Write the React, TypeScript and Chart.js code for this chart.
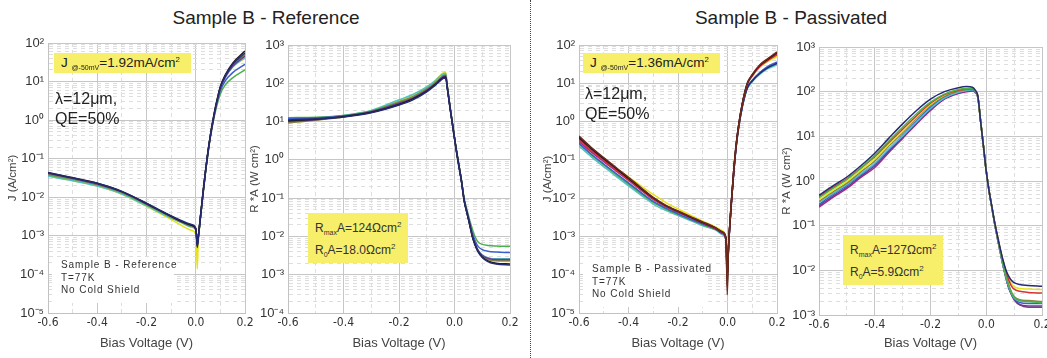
import React, { useEffect, useRef } from "react";
import { Chart, registerables } from "chart.js";

Chart.register(...registerables);

// ---------------- DATA ----------------
// Panel 1: J (A/cm²) vs bias, Sample B - Reference
const vJRef = [-0.6, -0.5, -0.4, -0.3, -0.2, -0.12, -0.06, -0.02, 0.0, 0.003, 0.006, 0.01, 0.02, 0.03, 0.04, 0.05, 0.06, 0.07, 0.08, 0.09, 0.1, 0.12, 0.15, 0.2];
const jRefNavy = [0.044, 0.032, 0.023, 0.0142, 0.007, 0.0038, 0.0025, 0.002, 0.0016, 0.001, 0.0005, 0.0008, 0.0035, 0.014, 0.05, 0.16, 0.42, 1.0, 2.1, 4.0, 7.2, 14, 28, 55];
const jRefBlack = [0.043, 0.032, 0.023, 0.014, 0.0069, 0.0037, 0.0024, 0.0019, 0.0015, 0.001, 0.00055, 0.0009, 0.0036, 0.014, 0.05, 0.16, 0.43, 1.0, 2.2, 4.2, 7.5, 15, 30, 62];
const jRefPurple = [0.042, 0.031, 0.022, 0.0138, 0.0068, 0.0037, 0.0024, 0.0019, 0.0015, 0.001, 0.0006, 0.0009, 0.0035, 0.014, 0.05, 0.15, 0.41, 0.95, 2.0, 3.8, 6.8, 13, 25, 46];
const jRefOlive = [0.04, 0.03, 0.0215, 0.0134, 0.0066, 0.0036, 0.0023, 0.0018, 0.0015, 0.001, 0.0006, 0.0009, 0.0034, 0.013, 0.048, 0.15, 0.41, 0.95, 2.0, 3.9, 7.0, 14, 27, 50];
const jRefBlue = [0.041, 0.031, 0.022, 0.0137, 0.0067, 0.0037, 0.0024, 0.0019, 0.0015, 0.001, 0.0006, 0.0009, 0.0035, 0.013, 0.048, 0.15, 0.4, 0.9, 1.9, 3.5, 5.8, 10.5, 17, 28];
const jRefGreen = [0.038, 0.029, 0.021, 0.013, 0.0064, 0.0035, 0.0023, 0.0018, 0.0015, 0.001, 0.0006, 0.0009, 0.0034, 0.013, 0.047, 0.14, 0.38, 0.85, 1.7, 3.0, 4.8, 8.2, 12.5, 20];
const jRefCyan = [0.035, 0.027, 0.0195, 0.0122, 0.006, 0.0033, 0.0022, 0.0017, 0.0014, 0.0009, 0.0006, 0.0009, 0.0033, 0.013, 0.047, 0.15, 0.4, 0.95, 2.0, 3.8, 6.8, 13, 24, 42];
const jRefYellow = [0.036, 0.027, 0.0195, 0.012, 0.0058, 0.0031, 0.0019, 0.0014, 0.0011, 0.0006, 0.00014, 0.0006, 0.0032, 0.013, 0.047, 0.15, 0.4, 0.95, 2.0, 3.8, 6.8, 13, 24, 40];

// Panel 2: R*A vs bias, Sample B - Reference
const vRaRef = [-0.6, -0.5, -0.4, -0.3, -0.2, -0.15, -0.1, -0.07, -0.05, -0.04, -0.032, -0.025, -0.015, -0.005, 0.005, 0.015, 0.025, 0.035, 0.045, 0.055, 0.065, 0.075, 0.085, 0.1, 0.12, 0.15, 0.2];
const raRefNavy = [11, 11.8, 13.2, 17, 27, 37, 60, 88, 118, 135, 138, 65, 20, 6.5, 2.1, 0.75, 0.28, 0.085, 0.041, 0.02, 0.0095, 0.0058, 0.004, 0.0028, 0.0022, 0.0019, 0.0018];
const raRefBlack = [10.5, 11.5, 13.5, 17.5, 28, 39, 62, 92, 125, 142, 146, 68, 20, 6.5, 2.1, 0.75, 0.28, 0.085, 0.041, 0.02, 0.0095, 0.0058, 0.004, 0.0029, 0.0023, 0.002, 0.0019];
const raRefPurple = [10, 11.2, 13.5, 18, 30, 41, 66, 97, 132, 152, 156, 70, 21, 6.6, 2.1, 0.76, 0.28, 0.086, 0.042, 0.021, 0.01, 0.0062, 0.0043, 0.0032, 0.0027, 0.0025, 0.0025];
const raRefOlive = [9.2, 10.8, 13.2, 18, 32, 44, 70, 102, 138, 158, 163, 72, 21, 6.6, 2.1, 0.76, 0.28, 0.086, 0.042, 0.021, 0.01, 0.006, 0.0041, 0.003, 0.0025, 0.0023, 0.0023];
const raRefBlue = [12, 12.5, 14, 18, 30, 41, 66, 96, 130, 150, 158, 70, 21, 6.6, 2.1, 0.77, 0.29, 0.09, 0.045, 0.023, 0.012, 0.0075, 0.0055, 0.0045, 0.0041, 0.0039, 0.0038];
const raRefGreen = [12.6, 13, 14.5, 19, 33, 45, 72, 104, 142, 162, 168, 72, 21, 6.7, 2.2, 0.8, 0.3, 0.095, 0.05, 0.026, 0.015, 0.0095, 0.0072, 0.0062, 0.0058, 0.0056, 0.0055];
const raRefCyan = [11.5, 12.5, 14.5, 19.5, 37, 51, 80, 116, 160, 178, 182, 75, 22, 6.8, 2.2, 0.78, 0.29, 0.088, 0.043, 0.021, 0.0105, 0.0063, 0.0044, 0.0033, 0.0028, 0.0026, 0.0026];
const raRefYellow = [9.5, 11, 13.8, 19, 35, 49, 80, 118, 165, 190, 196, 78, 22, 6.8, 2.2, 0.78, 0.29, 0.088, 0.042, 0.021, 0.01, 0.006, 0.0042, 0.0031, 0.0026, 0.0023, 0.0022];

// Panel 3: J (A/cm²) vs bias, Sample B - Passivated
const vJPas = [-0.6, -0.55, -0.5, -0.45, -0.4, -0.35, -0.3, -0.25, -0.2, -0.15, -0.1, -0.05, -0.02, -0.006, -0.001, 0.004, 0.008, 0.015, 0.025, 0.035, 0.045, 0.06, 0.08, 0.1, 0.13, 0.16, 0.2];
const jPasBrown = [0.42, 0.21, 0.115, 0.063, 0.035, 0.019, 0.0105, 0.0066, 0.0046, 0.0033, 0.0024, 0.0017, 0.0013, 0.0009, 0.00003, 0.0005, 0.0015, 0.007, 0.05, 0.25, 0.8, 3.0, 10, 17, 30, 43, 66];
const jPasBlack = [0.39, 0.2, 0.108, 0.06, 0.033, 0.018, 0.0101, 0.0064, 0.0045, 0.0032, 0.0023, 0.0017, 0.0013, 0.0009, 0.00005, 0.0005, 0.0015, 0.007, 0.05, 0.25, 0.8, 3.0, 10, 16.5, 29, 41, 62];
const jPasRed = [0.33, 0.175, 0.097, 0.054, 0.03, 0.0168, 0.0096, 0.0062, 0.0044, 0.0032, 0.0023, 0.0017, 0.0013, 0.0009, 0.0001, 0.0005, 0.0015, 0.007, 0.05, 0.24, 0.78, 2.9, 9.5, 15.5, 27, 38, 55];
const jPasMagenta = [0.3, 0.16, 0.09, 0.051, 0.029, 0.0162, 0.0093, 0.0061, 0.0043, 0.0031, 0.0022, 0.0016, 0.0012, 0.0008, 0.0001, 0.0005, 0.0015, 0.007, 0.05, 0.24, 0.78, 2.9, 9.5, 16, 28, 40, 58];
const jPasNavy = [0.36, 0.185, 0.1, 0.056, 0.031, 0.0172, 0.0097, 0.0061, 0.0043, 0.0031, 0.0022, 0.0016, 0.0012, 0.0008, 0.00008, 0.0005, 0.0014, 0.0065, 0.045, 0.22, 0.7, 2.5, 7.5, 11.5, 18, 25, 33];
const jPasBlue = [0.27, 0.14, 0.078, 0.044, 0.025, 0.0142, 0.0082, 0.0055, 0.0039, 0.0028, 0.0021, 0.0016, 0.0012, 0.0008, 0.0001, 0.0005, 0.0014, 0.0065, 0.045, 0.22, 0.7, 2.5, 7.8, 12, 19, 27, 36];
const jPasGreen = [0.26, 0.135, 0.074, 0.041, 0.0232, 0.0132, 0.0077, 0.0052, 0.0037, 0.0027, 0.002, 0.0015, 0.0012, 0.0008, 0.00012, 0.0005, 0.0014, 0.0065, 0.045, 0.22, 0.7, 2.5, 7.6, 11.5, 18, 25, 33];
const jPasCyan = [0.23, 0.12, 0.066, 0.037, 0.021, 0.012, 0.007, 0.0048, 0.0035, 0.0026, 0.0019, 0.0015, 0.0011, 0.0008, 0.00012, 0.0005, 0.0014, 0.0065, 0.045, 0.21, 0.68, 2.4, 7.2, 11, 17, 23.5, 30];
const jPasYellow = [0.29, 0.165, 0.1, 0.06, 0.036, 0.021, 0.0125, 0.0078, 0.0052, 0.0036, 0.0025, 0.0018, 0.0014, 0.0009, 0.0002, 0.0005, 0.0015, 0.007, 0.05, 0.24, 0.78, 2.9, 9.5, 15.5, 26, 36, 50];

// Panel 4: R*A vs bias, Sample B - Passivated
const vRaPas = [-0.6, -0.55, -0.5, -0.45, -0.4, -0.35, -0.3, -0.25, -0.2, -0.15, -0.1, -0.07, -0.05, -0.04, -0.03, -0.02, -0.01, 0.0, 0.01, 0.02, 0.03, 0.04, 0.05, 0.06, 0.07, 0.08, 0.09, 0.1, 0.12, 0.15, 0.2];
const raPasNavy = [0.48, 0.78, 1.23, 2.2, 4.2, 9, 19, 38, 68, 100, 123, 130, 126, 110, 79, 21, 6, 1.66, 0.61, 0.27, 0.12, 0.06, 0.031, 0.017, 0.0105, 0.0075, 0.006, 0.0053, 0.0048, 0.0046, 0.0044];
const raPasGreen = [0.42, 0.68, 1.08, 1.95, 3.7, 7.8, 16, 32, 58, 88, 112, 118, 117, 104, 77, 21, 6, 1.66, 0.6, 0.26, 0.115, 0.056, 0.028, 0.014, 0.0078, 0.0048, 0.0032, 0.0025, 0.0021, 0.002, 0.0019];
const raPasRed = [0.45, 0.72, 1.12, 1.95, 3.5, 7.2, 14.5, 29, 55, 86, 108, 114, 114, 102, 76, 21, 6, 1.66, 0.61, 0.27, 0.12, 0.058, 0.03, 0.016, 0.0095, 0.0062, 0.0045, 0.0038, 0.0034, 0.0032, 0.0031];
const raPasYellow = [0.38, 0.62, 0.98, 1.75, 3.1, 6.5, 13, 27, 52, 84, 110, 117, 118, 105, 77, 21, 6, 1.66, 0.61, 0.27, 0.12, 0.059, 0.031, 0.017, 0.01, 0.0068, 0.005, 0.0043, 0.0039, 0.0038, 0.0037];
const raPasOlive = [0.35, 0.57, 0.9, 1.6, 2.8, 6.0, 12, 25, 50, 80, 104, 112, 114, 102, 76, 21, 6, 1.66, 0.6, 0.26, 0.115, 0.056, 0.028, 0.014, 0.0078, 0.0048, 0.0033, 0.0026, 0.0022, 0.0021, 0.002];
const raPasCyan = [0.33, 0.53, 0.84, 1.45, 2.5, 5.2, 10.2, 21, 42, 72, 97, 106, 110, 100, 75, 21, 6, 1.66, 0.6, 0.26, 0.114, 0.055, 0.027, 0.0135, 0.0074, 0.0045, 0.0031, 0.0024, 0.0021, 0.002, 0.0019];
const raPasBlue = [0.3, 0.5, 0.8, 1.38, 2.4, 5.0, 10.5, 22, 45, 75, 100, 108, 111, 101, 75, 21, 6, 1.66, 0.6, 0.26, 0.113, 0.054, 0.027, 0.0133, 0.0072, 0.0043, 0.003, 0.0023, 0.0019, 0.0018, 0.0018];
const raPasPurple = [0.28, 0.46, 0.73, 1.28, 2.2, 4.6, 9.5, 20, 40, 70, 93, 102, 106, 98, 74, 21, 6, 1.66, 0.6, 0.26, 0.112, 0.053, 0.026, 0.013, 0.0071, 0.0042, 0.0029, 0.0022, 0.0017, 0.0016, 0.0016];
const raPasMagenta = [0.26, 0.43, 0.68, 1.2, 2.0, 4.3, 9, 19, 38, 68, 91, 100, 104, 97, 74, 21, 6, 1.66, 0.6, 0.26, 0.112, 0.053, 0.026, 0.013, 0.0072, 0.0042, 0.003, 0.0023, 0.0017, 0.0015, 0.0015];

// Axis ticks / labels
const xTickValues = [-0.6, -0.5, -0.4, -0.3, -0.2, -0.1, 0, 0.1, 0.2];
const xTickLabels = ["-0.6", "", "-0.4", "", "-0.2", "", "0.0", "", "0.2"];
const xAxisTitle = "Bias Voltage (V)";
const jAxisTitle = "J (A/cm²)";
const raAxisTitle = "R *A (W cm²)";

// Annotation texts
const refTitle = "Sample B - Reference";
const pasTitle = "Sample B - Passivated";
const refJ50 = "1.92";
const pasJ50 = "1.36";
const refRmax = "124";
const refR0 = "18.0";
const pasRmax = "127";
const pasR0 = "5.9";

// ---------------- STYLE ----------------
const COL = {
  navy: "#252a72",
  black: "#1c1c1c",
  purple: "#6b3c8e",
  olive: "#858545",
  blue: "#3c5fcc",
  green: "#4db04d",
  cyan: "#52c2c8",
  yellow: "#e6e21e",
  brown: "#6e2a1c",
  red: "#d43434",
  magenta: "#a8288e",
};
const YELLOW_BOX = "#f7ee6a";
const SANS = "'Liberation Sans', Arial, Helvetica, sans-serif";
const NARROW = "'Liberation Sans Narrow', 'DejaVu Sans Condensed', 'Liberation Sans', Arial, sans-serif";
const H = 328;

type Series = { label: string; color: string; values: number[] };

const SUP: Record<string, string> = { "-": "⁻", "0": "⁰", "1": "¹", "2": "²", "3": "³", "4": "⁴", "5": "⁵", "6": "⁶", "7": "⁷", "8": "⁸", "9": "⁹" };
const expLabel = (e: number) => "10" + String(e).split("").map((c) => SUP[c]).join("");
const isMajorY = (v: number) => Math.abs(Math.log10(v) - Math.round(Math.log10(v))) < 1e-6;
const isMajorX = (v: number) => Math.abs(Math.round(v * 10)) % 2 === 0;

type PanelCfg = {
  left: number;
  W: number;
  area: { l: number; r: number; t: number; b: number };
  yMinExp: number;
  yMaxExp: number;
  yTitle: string;
  yTitlePad: number;
  xs: number[];
  series: Series[];
};

function Panel({ cfg }: { cfg: PanelCfg }) {
  const ref = useRef<HTMLCanvasElement>(null);
  useEffect(() => {
    const canvas = ref.current!;
    const { W, area, yMinExp, yMaxExp } = cfg;
    const datasets = cfg.series.map((s) => ({
      label: s.label,
      data: cfg.xs.map((x, i) => ({ x, y: s.values[i] })),
      borderColor: s.color,
      backgroundColor: s.color,
      borderWidth: 1.5,
      pointRadius: 0,
      fill: false,
      cubicInterpolationMode: "monotone" as const,
    }));
    const MAJOR = "#c6c6c6";
    const MINOR = "#dedede";
    const chart = new Chart(canvas, {
      type: "line",
      data: { datasets },
      options: {
        responsive: false,
        animation: false,
        devicePixelRatio: 1,
        events: [],
        layout: { padding: { left: 0, top: area.t, right: W - area.r, bottom: 0 } },
        plugins: { legend: { display: false }, tooltip: { enabled: false } },
        scales: {
          x: {
            type: "linear",
            min: -0.6,
            max: 0.2,
            afterBuildTicks: (s: any) => {
              s.ticks = xTickValues.map((v) => ({ value: v }));
            },
            afterFit: (s: any) => {
              s.height = H - area.b;
            },
            ticks: {
              autoSkip: false,
              maxRotation: 0,
              padding: 3,
              color: "#333",
              font: { family: NARROW, size: 12 },
              callback: (_v: any, i: number) => xTickLabels[i],
            },
            grid: {
              drawTicks: false,
              lineWidth: 1,
              color: (c: any) => (c.tick && !isMajorX(c.tick.value) ? MINOR : MAJOR),
            },
            border: {
              color: "#c2c2c2",
              dash: (c: any) => (c.tick && !isMajorX(c.tick.value) ? [4, 3] : []),
            },
            title: {
              display: true,
              text: xAxisTitle,
              color: "#444",
              font: { family: SANS, size: 13 },
              padding: { top: 0, bottom: 7 },
            },
          },
          y: {
            type: "logarithmic",
            min: Number(`1e${yMinExp}`),
            max: Number(`1e${yMaxExp}`),
            afterBuildTicks: (s: any) => {
              const t: { value: number }[] = [];
              for (let e = yMinExp; e <= yMaxExp; e++) {
                t.push({ value: Number(`1e${e}`) });
                if (e < yMaxExp) for (let m = 2; m <= 9; m++) t.push({ value: Number(`${m}e${e}`) });
              }
              s.ticks = t;
            },
            afterFit: (s: any) => {
              s.width = area.l;
            },
            ticks: {
              autoSkip: false,
              padding: 4,
              color: "#333",
              font: { family: SANS, size: 13 },
              callback: (v: any) => (isMajorY(Number(v)) ? expLabel(Math.round(Math.log10(Number(v)))) : ""),
            },
            grid: {
              drawTicks: false,
              lineWidth: 1,
              color: (c: any) => (c.tick && !isMajorY(c.tick.value) ? MINOR : MAJOR),
            },
            border: {
              color: "#c2c2c2",
              dash: (c: any) => (c.tick && !isMajorY(c.tick.value) ? [4, 4] : []),
            },
            title: {
              display: true,
              text: cfg.yTitle,
              color: "#444",
              font: { family: SANS, size: 11.5 },
              padding: { top: cfg.yTitlePad, bottom: 0 },
            },
          },
        },
      } as any,
    });
    return () => chart.destroy();
  }, []);
  return (
    <canvas
      ref={ref}
      width={cfg.W}
      height={H}
      style={{ position: "absolute", left: cfg.left, top: 30, width: cfg.W, height: H }}
    />
  );
}

const sub = (t: string, size = 7) => (
  <span style={{ fontSize: size, position: "relative", top: 3 }}>{t}</span>
);
const sup = (t: string) => <span style={{ fontSize: 8, position: "relative", top: -5 }}>{t}</span>;

function JBox({ left, top, value }: { left: number; top: number; value: string }) {
  return (
    <div
      style={{
        position: "absolute", left, top, width: 137, height: 20, background: YELLOW_BOX,
        font: `13.5px ${SANS}`, lineHeight: "20px", paddingLeft: 7, boxSizing: "border-box",
        whiteSpace: "nowrap", color: "#222",
      }}
    >
      J {sub("@-50mV")}={value}mA/cm{sup("2")}
    </div>
  );
}

function LambdaText({ left, top }: { left: number; top: number }) {
  return (
    <div style={{ position: "absolute", left, top, font: `16px ${SANS}`, lineHeight: "20px", color: "#222", whiteSpace: "nowrap" }}>
      <div>λ=12μm,</div>
      <div>QE=50%</div>
    </div>
  );
}

function InfoBox({ left, top, name }: { left: number; top: number; name: string }) {
  return (
    <div
      style={{
        position: "absolute", left, top, width: 122, height: 46, background: "#fff",
        font: `10px ${SANS}`, lineHeight: "12.5px", letterSpacing: "0.9px", color: "#333",
        paddingLeft: 9, paddingTop: 2, boxSizing: "border-box", whiteSpace: "nowrap",
      }}
    >
      <div>{name}</div>
      <div>T=77K</div>
      <div>No Cold Shield</div>
    </div>
  );
}

function RBox({ left, top, rmax, r0 }: { left: number; top: number; rmax: string; r0: string }) {
  return (
    <div
      style={{
        position: "absolute", left, top, width: 100, height: 50, background: YELLOW_BOX,
        font: `12px ${SANS}`, lineHeight: "20px", paddingLeft: 7, paddingTop: 5, boxSizing: "border-box",
        whiteSpace: "nowrap", color: "#333",
      }}
    >
      <div>R{sub("max")}A={rmax}Ωcm{sup("2")}</div>
      <div>R{sub("0")}A={r0}Ωcm{sup("2")}</div>
    </div>
  );
}

const panels: PanelCfg[] = [
  {
    left: 0, W: 262, area: { l: 48, r: 245, t: 13, b: 283 }, yMinExp: -5, yMaxExp: 2,
    yTitle: jAxisTitle, yTitlePad: 6, xs: vJRef,
    series: [
      { label: "navy", color: COL.navy, values: jRefNavy },
      { label: "black", color: COL.black, values: jRefBlack },
      { label: "purple", color: COL.purple, values: jRefPurple },
      { label: "olive", color: COL.olive, values: jRefOlive },
      { label: "blue", color: COL.blue, values: jRefBlue },
      { label: "green", color: COL.green, values: jRefGreen },
      { label: "cyan", color: COL.cyan, values: jRefCyan },
      { label: "yellow", color: COL.yellow, values: jRefYellow },
    ],
  },
  {
    left: 240, W: 290, area: { l: 48, r: 270, t: 15, b: 283 }, yMinExp: -4, yMaxExp: 3,
    yTitle: raAxisTitle, yTitlePad: 8, xs: vRaRef,
    series: [
      { label: "navy", color: COL.navy, values: raRefNavy },
      { label: "black", color: COL.black, values: raRefBlack },
      { label: "purple", color: COL.purple, values: raRefPurple },
      { label: "olive", color: COL.olive, values: raRefOlive },
      { label: "blue", color: COL.blue, values: raRefBlue },
      { label: "green", color: COL.green, values: raRefGreen },
      { label: "cyan", color: COL.cyan, values: raRefCyan },
      { label: "yellow", color: COL.yellow, values: raRefYellow },
    ],
  },
  {
    left: 530, W: 262, area: { l: 49, r: 247, t: 15, b: 283 }, yMinExp: -5, yMaxExp: 2,
    yTitle: jAxisTitle, yTitlePad: 11, xs: vJPas,
    series: [
      { label: "brown", color: COL.brown, values: jPasBrown },
      { label: "black", color: COL.black, values: jPasBlack },
      { label: "red", color: COL.red, values: jPasRed },
      { label: "magenta", color: COL.magenta, values: jPasMagenta },
      { label: "navy", color: COL.navy, values: jPasNavy },
      { label: "blue", color: COL.blue, values: jPasBlue },
      { label: "green", color: COL.green, values: jPasGreen },
      { label: "cyan", color: COL.cyan, values: jPasCyan },
      { label: "yellow", color: COL.yellow, values: jPasYellow },
    ],
  },
  {
    left: 775, W: 290, area: { l: 44, r: 267, t: 17, b: 285 }, yMinExp: -3, yMaxExp: 3,
    yTitle: raAxisTitle, yTitlePad: 5, xs: vRaPas,
    series: [
      { label: "navy", color: COL.navy, values: raPasNavy },
      { label: "green", color: COL.green, values: raPasGreen },
      { label: "red", color: COL.red, values: raPasRed },
      { label: "yellow", color: COL.yellow, values: raPasYellow },
      { label: "olive", color: COL.olive, values: raPasOlive },
      { label: "cyan", color: COL.cyan, values: raPasCyan },
      { label: "blue", color: COL.blue, values: raPasBlue },
      { label: "purple", color: COL.purple, values: raPasPurple },
      { label: "magenta", color: COL.magenta, values: raPasMagenta },
    ],
  },
];

export default function App() {
  return (
    <div
      style={{
        position: "absolute", left: 0, top: 0, width: 1047, height: 358,
        background: "#fff", overflow: "hidden", fontFamily: SANS,
      }}
    >
      <div style={{ position: "absolute", left: 146, top: 6, width: 240, textAlign: "center", font: `19px ${SANS}`, lineHeight: "24px", color: "#222" }}>
        {refTitle}
      </div>
      <div style={{ position: "absolute", left: 671, top: 6, width: 240, textAlign: "center", font: `19px ${SANS}`, lineHeight: "24px", color: "#222" }}>
        {pasTitle}
      </div>
      <div style={{ position: "absolute", left: 530, top: 0, width: 0, height: 358, borderLeft: "1px dotted #444" }} />
      {panels.map((p, i) => (
        <Panel key={i} cfg={p} />
      ))}
      <JBox left={54} top={53} value={refJ50} />
      <LambdaText left={55} top={89} />
      <InfoBox left={52} top={257} name={"Sample B - Reference"} />
      <RBox left={308} top={213} rmax={refRmax} r0={refR0} />
      <JBox left={583} top={53} value={pasJ50} />
      <LambdaText left={585} top={84} />
      <InfoBox left={583} top={261} name={"Sample B - Passivated"} />
      <RBox left={843} top={235} rmax={pasRmax} r0={pasR0} />
    </div>
  );
}
